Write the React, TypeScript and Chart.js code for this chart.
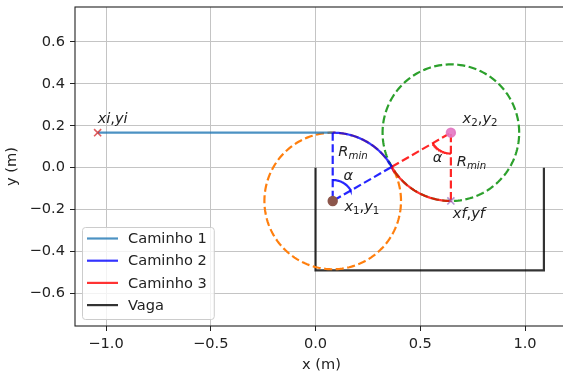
import React, { useEffect, useRef } from 'react';
import { Chart, registerables } from 'chart.js';
Chart.register(...registerables);

// ---- data ----
const startPoint = [-1.04, 0.167]; // xi, yi
const center1 = [0.082, -0.159]; // x1, y1
const center2 = [0.646, 0.167]; // x2, y2
const endPoint = [0.646, -0.159]; // xf, yf
const radiusMin = [0.326];
const alphaDeg = [60];
const angleMarkRadius = [0.1];
const vagaX = [0, 0, 1.09, 1.09];
const vagaY = [0, -0.49, -0.49, 0];
const xTicks = [-1.0, -0.5, 0.0, 0.5, 1.0];
const yTicks = [-0.6, -0.4, -0.2, 0.0, 0.2, 0.4, 0.6];
const xRange = [-1.148, 1.205];
const yRange = [-0.756, 0.767];
const legendLabels = ['Caminho 1', 'Caminho 2', 'Caminho 3', 'Vaga'];
const legendColors = ['rgba(31,119,180,0.8)', 'rgba(0,0,255,0.8)', 'rgba(255,0,0,0.8)', 'rgba(0,0,0,0.8)'];

const FONT = '"DejaVu Sans"';
const FS = 14.6;

function arcPts(c: number[], r: number, a0: number, a1: number, n = 90) {
  const pts: { x: number; y: number }[] = [];
  for (let i = 0; i <= n; i++) {
    const a = ((a0 + ((a1 - a0) * i) / n) * Math.PI) / 180;
    pts.push({ x: c[0] + r * Math.cos(a), y: c[1] + r * Math.sin(a) });
  }
  return pts;
}

type Seg = { t: string; it?: boolean; sub?: boolean };

function drawMath(ctx: CanvasRenderingContext2D, x: number, y: number, segs: Seg[]) {
  let cx = x;
  for (const s of segs) {
    const fs = s.sub ? FS * 0.7 : FS;
    ctx.font = `${s.it ? 'italic ' : ''}${fs}px ${FONT}`;
    const dy = s.sub ? FS * 0.22 : 0;
    ctx.fillText(s.t, cx, y + dy);
    cx += ctx.measureText(s.t).width;
  }
}

export default function App() {
  const ref = useRef<HTMLCanvasElement>(null);
  useEffect(() => {
    document.body.style.margin = '0';
    const R = radiusMin[0];
    const a = alphaDeg[0];
    const rm = angleMarkRadius[0];
    const topOfC1 = { x: center1[0], y: center1[1] + R };
    const tangent = {
      x: center1[0] + R * Math.cos(((90 - a) * Math.PI) / 180),
      y: center1[1] + R * Math.sin(((90 - a) * Math.PI) / 180),
    };
    const lw = 2.2;
    const dash = [8.1, 3.5];
    const line = (data: any[], color: string, extra: any = {}) => ({
      data,
      showLine: true,
      borderColor: color,
      backgroundColor: color,
      borderWidth: lw,
      pointRadius: 0,
      tension: 0,
      fill: false,
      ...extra,
    });
    const marker = (p: number[], color: string, style: string, fillC: string, r: number) => ({
      data: [{ x: p[0], y: p[1] }],
      showLine: false,
      pointStyle: style,
      pointRadius: r,
      pointBorderColor: color,
      pointBackgroundColor: fillC,
      pointBorderWidth: 1.6,
      borderColor: color,
      backgroundColor: fillC,
    });

    const bottomToTop: any[] = [
      line(vagaX.map((x, i) => ({ x, y: vagaY[i] })), legendColors[3]),
      line(arcPts(center1, R, 0, 360, 180), '#ff7f0e', { borderDash: dash }),
      line(arcPts(center2, R, 0, 360, 180), '#2ca02c', { borderDash: dash }),
      line([{ x: startPoint[0], y: startPoint[1] }, { x: center1[0], y: startPoint[1] }], legendColors[0]),
      line([topOfC1, { x: center1[0], y: center1[1] }, tangent], 'rgba(0,0,255,0.85)', { borderDash: dash }),
      line([tangent, { x: center2[0], y: center2[1] }, { x: endPoint[0], y: endPoint[1] }], 'rgba(255,0,0,0.85)', { borderDash: dash }),
      line(arcPts(center1, rm, 90, 90 - a, 30), 'rgba(0,0,255,0.85)'),
      line(arcPts(center2, rm, 270, 270 - a, 30), 'rgba(255,0,0,0.85)'),
      line(arcPts(center1, R, 90, 90 - a), legendColors[1]),
      line(arcPts(center2, R, 270 - a, 270), legendColors[2]),
      marker(startPoint, 'rgba(214,39,40,0.75)', 'crossRot', 'rgba(214,39,40,0.75)', 5),
      marker(center1, '#8c564b', 'circle', '#8c564b', 4.4),
      marker(center2, 'rgba(227,119,194,0.9)', 'circle', 'rgba(227,119,194,0.9)', 4.4),
      marker(endPoint, 'rgba(148,103,189,0.7)', 'crossRot', 'rgba(148,103,189,0.7)', 5),
    ];
    const N = bottomToTop.length;
    bottomToTop.forEach((d, i) => (d.order = N - i));

    const overlay = {
      id: 'overlay',
      afterDraw(chart: any) {
        const ctx: CanvasRenderingContext2D = chart.ctx;
        const ca = chart.chartArea;
        const xs = chart.scales.x;
        const ys = chart.scales.y;
        const px = (x: number) => xs.getPixelForValue(x);
        const py = (y: number) => ys.getPixelForValue(y);
        ctx.save();
        // frame
        ctx.strokeStyle = '#222';
        ctx.lineWidth = 1.1;
        ctx.strokeRect(ca.left, ca.top, ca.right - ca.left, ca.bottom - ca.top);
        // annotations
        ctx.fillStyle = '#222';
        ctx.textAlign = 'left';
        ctx.textBaseline = 'alphabetic';
        const ann: [number, number, Seg[]][] = [
          [startPoint[0], startPoint[1] + 0.045, [{ t: 'xi', it: true }, { t: ',' }, { t: 'yi', it: true }]],
          [center1[0] + 0.027, center1[1] + 0.215, [{ t: 'R', it: true }, { t: 'min', it: true, sub: true }]],
          [center1[0] + 0.051, center1[1] + 0.1, [{ t: 'α', it: true }]],
          [center1[0] + 0.056, center1[1] - 0.047, [{ t: 'x', it: true }, { t: '1', sub: true }, { t: ',' }, { t: 'y', it: true }, { t: '1', sub: true }]],
          [center2[0] + 0.056, center2[1] + 0.047, [{ t: 'x', it: true }, { t: '2', sub: true }, { t: ',' }, { t: 'y', it: true }, { t: '2', sub: true }]],
          [center2[0] - 0.087, center2[1] - 0.139, [{ t: 'α', it: true }]],
          [center2[0] + 0.028, center2[1] - 0.158, [{ t: 'R', it: true }, { t: 'min', it: true, sub: true }]],
          [endPoint[0] + 0.009, endPoint[1] - 0.081, [{ t: 'xf', it: true }, { t: ',' }, { t: 'yf', it: true }]],
        ];
        for (const [x, y, segs] of ann) drawMath(ctx, px(x), py(y), segs);

        // axis titles
        ctx.font = `${FS}px ${FONT}`;
        ctx.textAlign = 'center';
        ctx.textBaseline = 'middle';
        ctx.fillText('x (m)', (ca.left + ca.right) / 2, ca.bottom + 39);
        ctx.save();
        ctx.translate(12, (ca.top + ca.bottom) / 2);
        ctx.rotate(-Math.PI / 2);
        ctx.fillText('y (m)', 0, 0);
        ctx.restore();

        // legend
        ctx.font = `${FS}px ${FONT}`;
        const maxW = Math.max(...legendLabels.map((l) => ctx.measureText(l).width));
        const bx = ca.left + 7;
        const bh = 92;
        const by = ca.bottom - 7 - bh;
        const bw = 46 + maxW + 7;
        ctx.beginPath();
        (ctx as any).roundRect(bx + 0.5, by + 0.5, bw, bh, 3);
        ctx.fillStyle = 'rgba(255,255,255,0.8)';
        ctx.fill();
        ctx.strokeStyle = '#cccccc';
        ctx.lineWidth = 1;
        ctx.stroke();
        legendLabels.forEach((lab, i) => {
          const yy = by + 11.5 + i * 22.2;
          ctx.strokeStyle = legendColors[i];
          ctx.lineWidth = lw;
          ctx.beginPath();
          ctx.moveTo(bx + 5, yy);
          ctx.lineTo(bx + 36, yy);
          ctx.stroke();
          ctx.fillStyle = '#222';
          ctx.textAlign = 'left';
          ctx.textBaseline = 'middle';
          ctx.fillText(lab, bx + 46, yy + 1);
        });
        ctx.restore();
      },
    };

    const fmt = (v: any) => Number(v).toFixed(1).replace('-', '\u2212');
    const zeroPad = (s: any) => {
      s.paddingTop = 0;
      s.paddingBottom = 0;
      s.paddingLeft = 0;
      s.paddingRight = 0;
    };
    const chart = new Chart(ref.current!, {
      type: 'scatter',
      data: { datasets: bottomToTop },
      options: {
        animation: false,
        responsive: false,
        devicePixelRatio: 1,
        layout: { padding: { left: 0, right: 12, top: 7, bottom: 0 } },
        plugins: { legend: { display: false }, tooltip: { enabled: false } },
        scales: {
          x: {
            type: 'linear',
            min: xRange[0],
            max: xRange[1],
            afterBuildTicks: (s: any) => {
              s.ticks = xTicks.map((value) => ({ value }));
            },
            afterFit: (s: any) => {
              s.height = 48;
              zeroPad(s);
            },
            grid: { color: '#c4c4c4', lineWidth: 1, tickColor: '#222', tickLength: 5, tickWidth: 1 },
            border: { display: false },
            ticks: { color: '#222', font: { family: 'DejaVu Sans', size: FS }, padding: 4, callback: fmt, maxRotation: 0 },
          },
          y: {
            type: 'linear',
            min: yRange[0],
            max: yRange[1],
            afterBuildTicks: (s: any) => {
              s.ticks = yTicks.map((value) => ({ value }));
            },
            afterFit: (s: any) => {
              s.width = 75;
              zeroPad(s);
            },
            grid: { color: '#c4c4c4', lineWidth: 1, tickColor: '#222', tickLength: 5, tickWidth: 1 },
            border: { display: false },
            ticks: { color: '#222', font: { family: 'DejaVu Sans', size: FS }, padding: 5, callback: fmt },
          },
        },
      } as any,
      plugins: [overlay],
    });
    return () => chart.destroy();
  }, []);
  return (
    <div style={{ width: 563, height: 374, overflow: 'hidden', position: 'relative' }}>
      <canvas ref={ref} width={580} height={374} style={{ display: 'block' }} />
    </div>
  );
}
